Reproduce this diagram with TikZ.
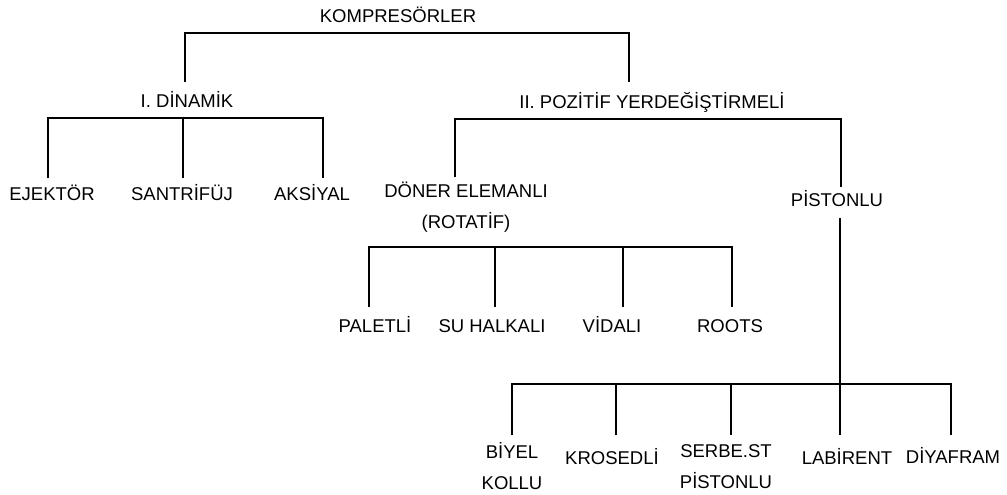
\documentclass[tikz,border=0pt]{standalone}
\usepackage{fontspec}
\setmainfont{Liberation Sans}
\newcommand\lblfont{\fontsize{18.5}{31}\selectfont}
\begin{document}
\begin{tikzpicture}[x=1pt,y=-1pt,
  lbl/.style={font=\lblfont, inner sep=0pt, align=center, anchor=base},
  conn/.style={line width=2.9pt, line join=miter}]
\useasboundingbox (0,0) rectangle (1007,495);
% labels
\node[lbl] (komp) at (398,23) {KOMPRESÖRLER};
\node[lbl] (din) at (187,107) {I. DİNAMİK};
\node[lbl] (poz) at (652,108) {II. POZİTİF YERDEĞİŞTİRMELİ};
\node[lbl] (ejk) at (52,200) {EJEKTÖR};
\node[lbl] (san) at (182,200) {SANTRİFÜJ};
\node[lbl] (aks) at (312,200) {AKSİYAL};
\node[lbl] (don) at (466,228) {DÖNER ELEMANLI\\(ROTATİF)};
\node[lbl] (pis) at (837,206) {PİSTONLU};
\node[lbl] (pal) at (375,332) {PALETLİ};
\node[lbl] (su) at (492,332) {SU HALKALI};
\node[lbl] (vid) at (612,332) {VİDALI};
\node[lbl] (roo) at (730,332) {ROOTS};
\node[lbl] (biy) at (512,489) {BİYEL\\KOLLU};
\node[lbl] (kro) at (612,464) {KROSEDLİ};
\node[lbl] (ser) at (726,488) {SERBE.ST\\PİSTONLU};
\node[lbl] (lab) at (847,464) {LABİRENT};
\node[lbl] (diy) at (953,463) {DİYAFRAM};
% connector end points
\coordinate (kL) at (185,82);
\coordinate (kR) at (629,82);
\coordinate (kbar) at (400,33);
\coordinate (dbar) at (183,118);
\coordinate (dE) at (48,178);
\coordinate (dS) at (183,178);
\coordinate (dA) at (323,178);
\coordinate (pbar) at (640,119);
\coordinate (pD) at (455,177);
\coordinate (pP) at (841,187);
\coordinate (pPb) at (840,218);
\coordinate (rbar) at (550,247);
\coordinate (rP) at (369,307);
\coordinate (rS) at (495,307);
\coordinate (rV) at (623,307);
\coordinate (rR) at (732,307);
\coordinate (sbar) at (700,384);
\coordinate (sB) at (512,435);
\coordinate (sK) at (616,435);
\coordinate (sS) at (731,435);
\coordinate (sL) at (840,435);
\coordinate (sD) at (951,435);
% connectors
\draw[conn] (kL) |- (kbar) -| (kR);
\draw[conn] (dE) |- (dbar) -| (dA);
\draw[conn] (dbar) -- (dS);
\draw[conn] (pD) |- (pbar) -| (pP);
\draw[conn] (rP) |- (rbar) -| (rR);
\draw[conn] (rS) -- (rS |- rbar);
\draw[conn] (rV) -- (rV |- rbar);
\draw[conn] (sB) |- (sbar) -| (sD);
\draw[conn] (pPb) -- (sL);
\draw[conn] (sK) -- (sK |- sbar);
\draw[conn] (sS) -- (sS |- sbar);
\end{tikzpicture}
\end{document}
